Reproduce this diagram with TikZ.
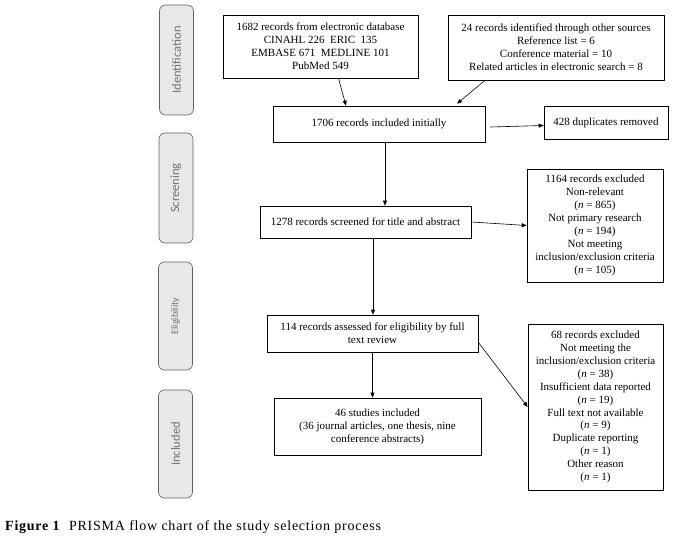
\documentclass[tikz,border=0pt]{standalone}
\usepackage{fontspec}
\setmainfont{Liberation Serif}
\newfontfamily\labelfont{Carlito}
\newfontfamily\captionfont[LetterSpace=5.5]{Liberation Serif}
\usetikzlibrary{positioning,arrows.meta,calc}

\begin{document}
\begin{tikzpicture}[
    x=1pt, y=-1pt,
    box/.style={draw, line width=0.6pt, align=center, inner sep=2pt, font=\fontsize{11}{12.9}\selectfont},
    phase/.style={draw=gray!75!black, fill=gray!18, rounded corners=6pt, line width=0.6pt,
        minimum height=34pt, text=gray!90!black, rotate=90},
    arrow/.style={-{Triangle[length=5pt,width=4pt]}, line width=0.6pt},
]
\useasboundingbox (0,0) rectangle (683,540);

% ================== Phase labels ==================
\node[phase, minimum width=110pt, font=\labelfont\fontsize{12.5}{14}\selectfont] (idTitle) at (176.5,60) {Identification};
\node[phase, minimum width=110pt, font=\labelfont\fontsize{12.5}{14}\selectfont] (scrTitle) at (176,188) {Screening};
\node[phase, minimum width=108pt, font=\labelfont\fontsize{10}{12}\selectfont] (eliTitle) at (175.5,316) {Eligibility};
\node[phase, minimum width=108pt, font=\labelfont\fontsize{12.5}{14}\selectfont] (incTitle) at (175.5,444) {Included};

% ================== Identification ==================
\node[box, minimum width=195pt, minimum height=63pt] (db) at (320.5,46.5)
    {1682 records from electronic database\\CINAHL 226\ \ ERIC\ \ 135\\EMBASE 671\ \ MEDLINE 101\\PubMed 549};
\node[box, minimum width=216pt, minimum height=65pt] (other) at (556,47.5)
    {24 records identified through other sources\\Reference list = 6\\Conference material = 10\\Related articles in electronic search = 8};
\node[box, minimum width=212pt, minimum height=36pt] (init) at (379,124) {1706 records included initially};
\node[box, minimum width=124pt, minimum height=33pt] (dup) at (606,122.5) {428 duplicates removed};

\draw[arrow] ([xshift=18pt]db.south) -- ([xshift=-33pt]init.north);
\draw[arrow] ([xshift=-71pt]other.south) -- ([xshift=78pt,yshift=2pt]init.north);
\draw[arrow] ([xshift=5pt,yshift=-3pt]init.east) -- ([yshift=-3pt]dup.west);

% ================== Screening ==================
\node[box, minimum width=211pt, minimum height=32pt] (screened) at (365.5,222) {1278 records screened for title and abstract};
\node[box, minimum width=136pt, minimum height=113pt] (excl1) at (595,225.5)
    {1164 records excluded\\Non-relevant\\(\textit{n} = 865)\\Not primary research\\(\textit{n} = 194)\\Not meeting\\inclusion/exclusion criteria\\(\textit{n} = 105)};

\draw[arrow] ([xshift=6pt]init.south) -- ([xshift=6pt]init.south |- screened.north);
\draw[arrow] (screened.east) -- (excl1.west);

% ================== Eligibility ==================
\node[box, minimum width=211pt, minimum height=37pt] (assessed) at (372.5,333.5)
    {114 records assessed for eligibility by full\\text review};
\node[box, minimum width=135pt, minimum height=166pt] (excl2) at (595.5,407)
    {68 records excluded\\Not meeting the\\inclusion/exclusion criteria\\(\textit{n} = 38)\\Insufficient data reported\\(\textit{n} = 19)\\Full text not available\\(\textit{n} = 9)\\Duplicate reporting\\(\textit{n} = 1)\\Other reason\\(\textit{n} = 1)};

\draw[arrow] ([xshift=7.5pt]screened.south) -- ([xshift=7.5pt]screened.south |- assessed.north);
\draw[arrow] ([yshift=10pt]assessed.south east) -- (excl2.west);

% ================== Included ==================
\node[box, minimum width=207pt, minimum height=57pt] (included) at (377.5,426.5)
    {46 studies included\\(36 journal articles, one thesis, nine\\conference abstracts)};

\draw[arrow] (assessed.south) -- (assessed.south |- included.north);

% Caption
\node[anchor=base west, inner sep=0pt, font=\captionfont\fontsize{14}{16}\selectfont] (caption) at (5,530)
    {\textbf{Figure 1}\ \ PRISMA flow chart of the study selection process};

\end{tikzpicture}
\end{document}
